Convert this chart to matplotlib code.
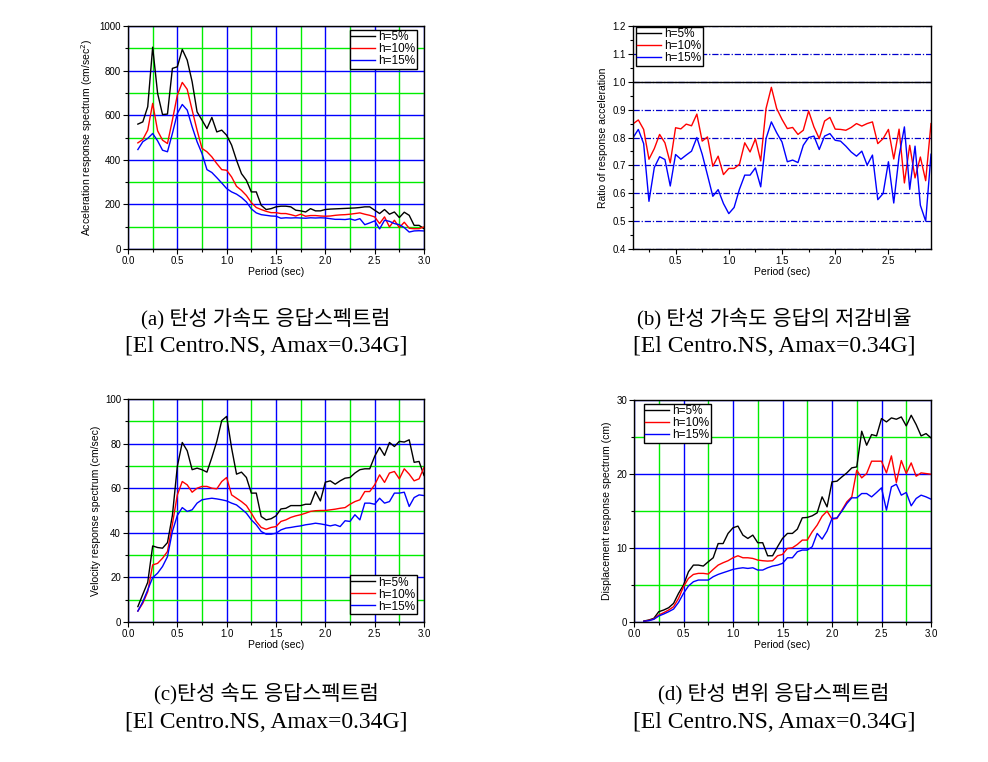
import matplotlib
matplotlib.use("Agg")
import matplotlib.pyplot as plt
from matplotlib.ticker import MultipleLocator, FormatStrFormatter

plt.rcParams['font.family'] = ['Liberation Sans', 'DejaVu Sans']

# ---------------- data ----------------
periods = [0.10, 0.15, 0.20, 0.25, 0.30, 0.35, 0.40, 0.45, 0.50, 0.55,
           0.60, 0.65, 0.70, 0.75, 0.80, 0.85, 0.90, 0.95, 1.00, 1.05,
           1.10, 1.15, 1.20, 1.25, 1.30, 1.35, 1.40, 1.45, 1.50, 1.55,
           1.60, 1.65, 1.70, 1.75, 1.80, 1.85, 1.90, 1.95, 2.00, 2.05,
           2.10, 2.15, 2.20, 2.25, 2.30, 2.35, 2.40, 2.45, 2.50, 2.55,
           2.60, 2.65, 2.70, 2.75, 2.80, 2.85, 2.90, 2.95, 3.00]
periods_ratio = periods[:57]

labels = ["h=5%", "h=10%", "h=15%"]
colors = ["black", "red", "blue"]

acc_h5 = [560, 570, 638, 905, 698, 603, 605, 810, 817, 895,
          847, 750, 615, 578, 540, 590, 525, 533, 510, 466,
          398, 338, 308, 256, 256, 196, 177, 181, 189, 192,
          192, 189, 174, 171, 166, 181, 171, 171, 177, 179,
          180, 181, 182, 183, 184, 186, 189, 189, 174, 159,
          177, 156, 166, 141, 165, 151, 106, 106, 91]
acc_h10 = [476, 491, 533, 653, 530, 488, 473, 578, 690, 747,
           716, 623, 533, 451, 436, 413, 383, 356, 353, 323,
           281, 263, 240, 208, 186, 177, 169, 163, 163, 159,
           159, 154, 148, 156, 147, 150, 150, 148, 147, 148,
           151, 153, 154, 156, 159, 162, 156, 151, 144, 114,
           144, 99, 129, 96, 120, 93, 91, 91, 99]
acc_h15 = [446, 481, 496, 518, 485, 443, 436, 518, 608, 648,
           623, 548, 481, 428, 356, 343, 320, 296, 271, 256,
           246, 231, 211, 180, 162, 154, 151, 148, 147, 138,
           140, 139, 140, 139, 138, 140, 139, 140, 139, 136,
           133, 133, 132, 135, 129, 136, 109, 117, 126, 90,
           129, 124, 114, 109, 96, 76, 81, 82, 81]

ratio_h5 = [1.0] * 57
ratio_h10 = [0.849, 0.863, 0.829, 0.722, 0.760, 0.811, 0.781, 0.709, 0.835, 0.831,
             0.848, 0.842, 0.884, 0.787, 0.802, 0.697, 0.733, 0.667, 0.689, 0.689,
             0.704, 0.781, 0.748, 0.795, 0.716, 0.904, 0.980, 0.904, 0.865, 0.832,
             0.836, 0.811, 0.826, 0.895, 0.838, 0.796, 0.859, 0.872, 0.830, 0.829,
             0.826, 0.836, 0.850, 0.841, 0.850, 0.856, 0.778, 0.796, 0.829, 0.723,
             0.830, 0.637, 0.772, 0.655, 0.730, 0.645, 0.850]
ratio_h15 = [0.799, 0.829, 0.778, 0.571, 0.692, 0.731, 0.721, 0.626, 0.739, 0.722,
             0.737, 0.751, 0.800, 0.740, 0.665, 0.589, 0.613, 0.563, 0.527, 0.549,
             0.614, 0.665, 0.665, 0.691, 0.623, 0.796, 0.856, 0.817, 0.784, 0.713,
             0.719, 0.710, 0.772, 0.800, 0.805, 0.757, 0.805, 0.814, 0.790, 0.787,
             0.769, 0.748, 0.733, 0.751, 0.701, 0.737, 0.577, 0.599, 0.713, 0.565,
             0.733, 0.838, 0.614, 0.769, 0.557, 0.500, 0.740]

vel_h5 = [6.9, 12.4, 17.8, 34.1, 33.4, 33.1, 35.6, 47.8, 69.8, 80.5,
          76.8, 68.3, 69.0, 68.3, 67.2, 73.8, 81.0, 90.3, 92.2, 78.0,
          66.3, 67.2, 64.8, 57.8, 57.8, 47.3, 45.8, 46.3, 47.6, 50.7,
          51.0, 52.2, 52.2, 52.2, 52.8, 52.8, 58.5, 54.3, 62.7, 63.3,
          61.8, 63.3, 64.5, 64.8, 66.8, 68.3, 68.7, 68.7, 74.3, 78.3,
          74.7, 80.5, 78.7, 81.0, 80.7, 81.7, 71.6, 72.0, 65.7]
vel_h10 = [4.9, 8.4, 13.6, 25.6, 26.3, 28.6, 31.6, 43.9, 57.0, 63.0,
           61.5, 58.2, 60.0, 60.8, 60.8, 60.0, 59.7, 63.0, 64.8, 57.0,
           55.5, 54.0, 52.2, 48.8, 45.1, 42.4, 41.6, 42.4, 42.8, 45.1,
           45.8, 46.9, 47.6, 48.1, 48.8, 49.6, 49.9, 50.0, 50.0, 50.3,
           50.6, 51.0, 51.3, 52.8, 54.0, 54.8, 58.5, 58.5, 61.5, 66.0,
           62.6, 66.8, 67.5, 64.2, 68.7, 66.3, 63.3, 64.2, 69.3]
vel_h15 = [4.9, 9.1, 14.4, 19.9, 21.9, 24.9, 29.3, 40.6, 47.8, 51.3,
           49.6, 50.3, 53.3, 54.8, 55.2, 55.5, 55.2, 54.8, 54.3, 53.3,
           52.5, 50.7, 48.8, 45.8, 43.6, 40.6, 39.4, 39.4, 39.8, 41.3,
           42.1, 42.4, 42.8, 43.1, 43.6, 43.9, 44.3, 44.0, 43.6, 43.1,
           43.6, 42.8, 45.4, 45.1, 48.1, 45.8, 53.3, 53.3, 52.8, 55.5,
           53.3, 54.0, 57.8, 57.8, 58.2, 51.8, 55.8, 57.0, 56.7]

disp_h5 = [0.13, 0.27, 0.49, 1.39, 1.62, 1.93, 2.52, 3.87, 4.99, 6.79,
           7.69, 7.69, 7.56, 8.14, 8.68, 10.6, 10.6, 11.97, 12.73, 12.96,
           11.74, 11.29, 11.74, 10.71, 10.71, 8.95, 8.95, 10.17, 11.29, 11.97,
           11.97, 12.55, 14.08, 14.13, 14.35, 14.75, 16.91, 15.56, 18.94, 19.03,
           19.61, 20.15, 20.83, 20.96, 25.78, 23.89, 25.33, 25.15, 27.49, 27.04,
           27.58, 27.40, 27.71, 26.50, 27.94, 26.68, 25.15, 25.46, 24.88]
disp_h10 = [0.10, 0.22, 0.40, 0.94, 1.26, 1.62, 2.07, 3.19, 4.77, 5.89,
            6.43, 6.57, 6.57, 6.48, 7.11, 7.69, 8.01, 8.28, 8.68, 8.95,
            8.68, 8.68, 8.59, 8.37, 8.28, 8.23, 8.28, 8.95, 9.13, 9.94,
            10.03, 10.48, 11.07, 11.07, 12.19, 13.09, 14.30, 14.98, 13.90, 13.99,
            15.11, 16.24, 16.91, 20.51, 19.48, 20.06, 21.73, 21.73, 21.73, 20.15,
            22.45, 18.85, 21.82, 20.06, 21.50, 19.70, 20.15, 20.06, 19.97]
disp_h15 = [0.10, 0.18, 0.36, 0.81, 1.08, 1.39, 1.75, 2.65, 3.87, 4.86,
            5.44, 5.67, 5.67, 5.67, 6.12, 6.43, 6.66, 6.88, 7.11, 7.24,
            7.33, 7.24, 7.33, 7.02, 7.02, 7.33, 7.56, 7.69, 7.92, 8.68,
            8.68, 9.49, 9.72, 9.72, 10.17, 11.97, 11.20, 12.28, 13.99, 14.08,
            14.98, 16.01, 16.78, 16.78, 17.36, 17.36, 16.91, 17.50, 18.13, 15.11,
            18.26, 18.62, 17.14, 17.50, 15.70, 16.69, 17.14, 16.91, 16.60]

captions = [
    ("(a) 탄성 가속도 응답스펙트럼", "[El Centro.NS, Amax=0.34G]"),
    ("(b) 탄성 가속도 응답의 저감비율", "[El Centro.NS, Amax=0.34G]"),
    ("(c)탄성 속도 응답스펙트럼", "[El Centro.NS, Amax=0.34G]"),
    ("(d) 탄성 변위 응답스펙트럼", "[El Centro.NS, Amax=0.34G]"),
]

# ---------------- figure ----------------
W, H = 988, 762
fig = plt.figure(figsize=(W / 100, H / 100), dpi=100)


def px_axes(l, t, r, b):
    return fig.add_axes([l / W, 1 - b / H, (r - l) / W, (b - t) / H])


ax_a = px_axes(128, 26, 424, 249)
ax_b = px_axes(633, 26, 931, 249)
ax_c = px_axes(128, 399, 424, 622)
ax_d = px_axes(634, 400, 931, 622)

TICK_FS = 7
LABEL_FS = 7.5
LEG_FS = 8.5


def style(ax, ymaj, ymin_, grid=True):
    for s in ax.spines.values():
        s.set_linewidth(1.0)
        s.set_color("black")
    ax.xaxis.set_major_locator(MultipleLocator(0.5))
    ax.xaxis.set_minor_locator(MultipleLocator(0.25))
    ax.yaxis.set_major_locator(MultipleLocator(ymaj))
    ax.yaxis.set_minor_locator(MultipleLocator(ymin_))
    ax.xaxis.set_major_formatter(FormatStrFormatter("%.1f"))
    ax.tick_params(which="major", direction="out", length=3.5, width=0.8,
                   labelsize=TICK_FS, pad=1.5, top=False, right=False)
    ax.tick_params(which="minor", direction="out", length=2, width=0.8,
                   top=False, right=False)
    ax.set_xlabel("Period (sec)", fontsize=LABEL_FS, labelpad=1)
    ax.set_axisbelow(True)
    if grid:
        ax.grid(which="major", color="#0000ff", linewidth=1.0)
        ax.grid(which="minor", color="#00ee00", linewidth=1.0)


def legend(ax, anchor, loc):
    lg = ax.legend(loc=loc, bbox_to_anchor=anchor, fontsize=LEG_FS,
                   frameon=True, fancybox=False, framealpha=1,
                   edgecolor="black", borderpad=0.12, labelspacing=0.0,
                   handlelength=2.0, handletextpad=0.3, borderaxespad=0)
    lg.get_frame().set_linewidth(1.0)
    return lg


def ax_frac(ax, px, py):
    bb = ax.get_position()
    return ((px / W - bb.x0) / bb.width, ((1 - py / H) - bb.y0) / bb.height)


# (a) acceleration
for y, c, lab in zip([acc_h5, acc_h10, acc_h15], colors, labels):
    ax_a.plot(periods, y, color=c, lw=1.0, label=lab)
ax_a.set_xlim(0, 3.0)
ax_a.set_ylim(0, 1000)
style(ax_a, 200, 100)
ax_a.set_ylabel("Acceleration response spectrum (cm/sec$^2$)", fontsize=LABEL_FS, labelpad=3)
legend(ax_a, ax_frac(ax_a, 417, 30), "upper right")

# (b) ratio
for y, c, lab in zip([ratio_h5, ratio_h10, ratio_h15], colors, labels):
    ax_b.plot(periods_ratio, y, color=c, lw=1.0, label=lab)
ax_b.set_xlim(0.1, 2.9)
ax_b.set_ylim(0.4, 1.2)
style(ax_b, 0.1, 0.05, grid=False)
ax_b.yaxis.set_major_formatter(FormatStrFormatter("%.1f"))
ax_b.grid(which="major", axis="y", color="#0000cc", linewidth=0.9,
          linestyle=(0, (5, 1.5, 1, 1.5)))
ax_b.set_ylabel("Ratio of response acceleration", fontsize=LABEL_FS, labelpad=3)
legend(ax_b, ax_frac(ax_b, 636, 27), "upper left")

# (c) velocity
for y, c, lab in zip([vel_h5, vel_h10, vel_h15], colors, labels):
    ax_c.plot(periods, y, color=c, lw=1.0, label=lab)
ax_c.set_xlim(0, 3.0)
ax_c.set_ylim(0, 100)
style(ax_c, 20, 10)
ax_c.set_ylabel("Velocity response spectrum (cm/sec)", fontsize=LABEL_FS, labelpad=3)
legend(ax_c, ax_frac(ax_c, 417, 614), "lower right")

# (d) displacement
for y, c, lab in zip([disp_h5, disp_h10, disp_h15], colors, labels):
    ax_d.plot(periods, y, color=c, lw=1.0, label=lab)
ax_d.set_xlim(0, 3.0)
ax_d.set_ylim(0, 30)
style(ax_d, 10, 5)
ax_d.set_ylabel("Displacement response spectrum (cm)", fontsize=LABEL_FS, labelpad=3)
legend(ax_d, ax_frac(ax_d, 644, 404), "upper left")

# captions
cap_font = ["Liberation Serif", "Noto Sans CJK KR"]
cap_pos = [(266, 319, 347), (774, 319, 347), (266, 694, 722), (774, 694, 722)]
for (l1, l2), (cx, y1, y2) in zip(captions, cap_pos):
    fig.text(cx / W, 1 - y1 / H, l1, ha="center", va="center",
             fontsize=15, family=cap_font)
    fig.text(cx / W, 1 - y2 / H, l2, ha="center", va="center",
             fontsize=17, family=cap_font)

fig.savefig("out.png", dpi=100)
